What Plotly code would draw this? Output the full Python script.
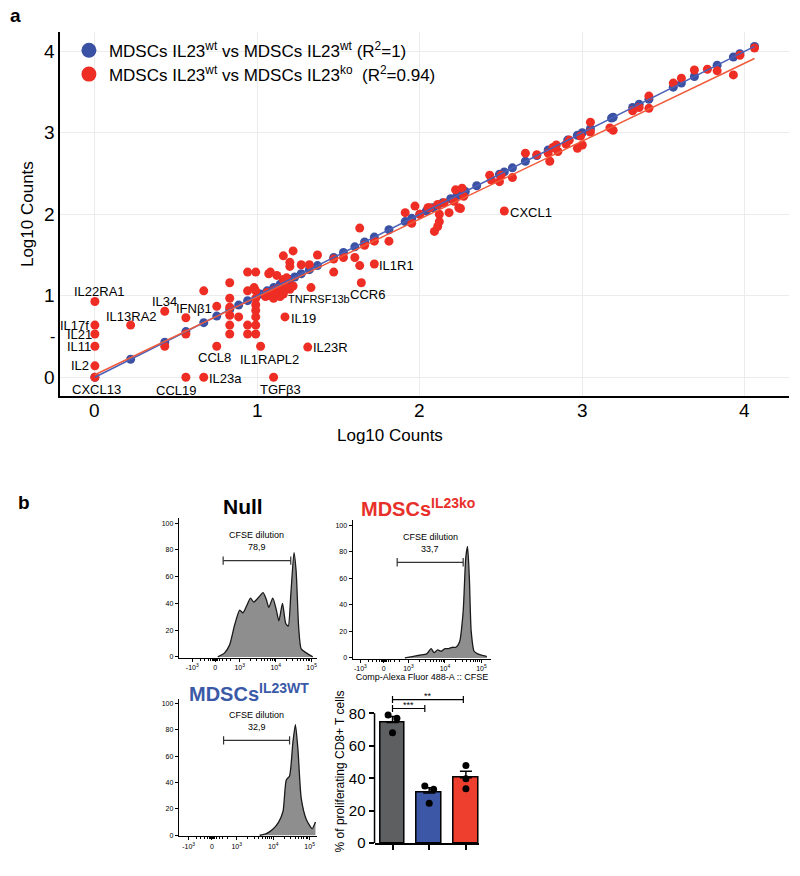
import numpy as np
import plotly.graph_objects as go

# page is 800x876 but the browser body has an 8px margin
OFF = 8
W, H = 784, 860
FONT = "Arial, 'Liberation Sans', Helvetica, sans-serif"
BLUE = "#3b51a3"
RED = "#ee2d24"
BLUE_LINE = "#4a60b8"
RED_LINE = "#f05a3a"

# ---------------- Panel a : scatter data ----------------
blue_x = [0, 0.22, 0.43, 0.56, 0.67, 0.75, 0.83, 0.885, 0.94, 1.02, 1.06, 1.10, 1.14, 1.17,
          1.20, 1.23, 1.27, 1.32, 1.37, 1.47, 1.53, 1.60, 1.66, 1.72, 1.81, 1.91, 1.95, 2.00,
          2.04, 2.08, 2.11, 2.14, 2.19, 2.23, 2.26, 2.28, 2.35, 2.49, 2.52, 2.57, 2.65, 2.72,
          2.79, 2.91, 2.97, 3.00, 3.05, 3.18, 3.19, 3.31, 3.35, 3.41, 3.56, 3.61, 3.69, 3.83,
          3.93, 3.97, 4.06]
blue_y = [0, 0.22, 0.43, 0.56, 0.67, 0.75, 0.83, 0.885, 0.94, 1.02, 1.06, 1.10, 1.14, 1.17,
          1.20, 1.23, 1.27, 1.32, 1.37, 1.47, 1.53, 1.60, 1.66, 1.72, 1.81, 1.91, 1.95, 2.00,
          2.04, 2.08, 2.11, 2.14, 2.19, 2.23, 2.26, 2.28, 2.35, 2.49, 2.52, 2.57, 2.65, 2.72,
          2.79, 2.91, 2.97, 3.00, 3.05, 3.18, 3.19, 3.31, 3.35, 3.41, 3.56, 3.61, 3.69, 3.83,
          3.93, 3.97, 4.06]

red_x = [0.43, 0.56, 0.75, 0.83, 0.83, 0.83, 0.83, 0.83, 0.83, 0.67, 0.885, 0.94, 0.94, 0.94,
         0.94, 0.99, 0.99, 0.99, 0.99, 0.99, 0.99, 0.99, 0.99, 1.08, 1.05, 1.06, 1.08, 1.10,
         1.10, 1.12, 1.13, 1.14, 1.16, 1.18, 1.20, 1.22, 0.98, 1.07, 1.12, 1.16, 1.18,
         1.33, 1.63, 1.63, 1.60, 1.53, 1.47, 1.47, 1.37, 1.22, 1.16, 1.20, 1.20, 1.27, 1.32,
         1.66, 1.72, 1.81, 1.91, 1.97, 1.95, 2.00, 2.05, 2.11, 2.12, 2.12, 2.11, 2.09, 2.18,
         2.24, 2.22, 2.26, 2.27, 2.25, 2.21, 2.06, 2.15, 2.43, 2.44, 2.49, 2.50, 2.57, 2.65,
         2.72, 2.79, 2.80, 2.82, 2.84, 2.85, 2.90, 2.92, 2.97, 3.00, 2.99, 3.05, 3.05, 3.17,
         3.19, 3.31, 3.35, 3.41, 3.41, 3.56, 3.61, 3.69, 3.77, 3.83, 3.93, 3.97, 4.06]
red_y = [0.38, 0.53, 0.87, 0.86, 0.97, 1.16, 0.76, 0.64, 0.53, 1.06, 0.74, 1.29, 1.06, 0.64,
         0.53, 1.29, 1.06, 0.97, 0.89, 0.82, 0.74, 0.64, 0.53, 1.29, 0.99, 1.04, 1.00, 1.06,
         0.97, 1.02, 1.09, 0.99, 1.05, 1.10, 1.08, 1.12, 1.10, 1.27, 1.25, 1.20, 1.22,
         1.10, 1.83, 1.37, 1.47, 1.47, 1.45, 1.29, 1.50, 1.55, 1.49, 1.41, 1.36, 1.38, 1.38,
         1.62, 1.67, 1.67, 2.02, 2.10, 1.89, 2.00, 2.08, 2.12, 2.00, 1.91, 1.85, 1.79, 2.02,
         2.08, 2.30, 2.32, 2.22, 2.07, 2.16, 2.08, 2.14, 2.48, 2.42, 2.40, 2.48, 2.45, 2.75,
         2.73, 2.75, 2.65, 2.82, 2.85, 2.77, 2.86, 2.91, 2.81, 2.85, 2.96, 3.13, 3.01, 3.06,
         3.03, 3.27, 3.31, 3.30, 3.45, 3.61, 3.67, 3.77, 3.78, 3.76, 3.71, 3.95, 4.04]

gene_names = ["IL22RA1", "IL17f", "IL21", "IL11", "IL2", "CXCL13", "IL13RA2", "IL34", "IFNβ1",
              "CCL19", "IL23a", "CCL8", "IL1RAPL2", "TGFβ3", "IL19", "TNFRSF13b", "CCR6",
              "IL1R1", "IL23R", "CXCL1"]
gene_x = [0, 0, 0, 0, 0, 0, 0.22, 0.43, 0.56, 0.56, 0.67, 0.75, 1.02, 1.10, 1.17, 1.16, 1.64,
          1.72, 1.31, 2.52]
gene_y = [0.93, 0.64, 0.53, 0.38, 0.14, 0.0, 0.64, 0.81, 0.73, 0.0, 0.0, 0.38, 0.38, 0.0, 0.74,
          1.02, 1.16, 1.39, 0.37, 2.04]

fit_x = [0, 4.06]
blue_fit = (1.0, 0.0)      # slope, intercept (R2 = 1)
red_fit = (0.956, 0.03)    # slope, intercept (R2 = 0.94)

a_ticks = [0, 1, 2, 3, 4]

legend_names = ["MDSCs IL23<sup>wt</sup> vs MDSCs IL23<sup>wt</sup> (R<sup>2</sup>=1)",
                "MDSCs IL23<sup>wt</sup> vs MDSCs IL23<sup>ko</sup>  (R<sup>2</sup>=0.94)"]

# ---------------- Panel b : CFSE histograms ----------------
null_t = [2.39, 2.58, 2.72, 2.86, 3.00, 3.09, 3.19, 3.30, 3.39, 3.51, 3.65, 3.74, 3.81, 3.92,
          4.02, 4.09, 4.19, 4.28, 4.35, 4.42, 4.51, 4.57, 4.64, 4.71, 4.85, 5.03]
null_count = [0, 3, 9, 24, 35, 33, 38, 44, 41, 44, 48, 43, 37, 44, 35, 27, 40, 25, 23, 46, 78,
              64, 22, 6, 3, 0]
ko_t = [2.90, 3.10, 3.30, 3.50, 3.62, 3.70, 3.80, 3.90, 4.00, 4.10, 4.20, 4.30, 4.40, 4.50,
        4.57, 4.62, 4.67, 4.72, 4.80, 4.90, 5.00, 5.15]
ko_count = [0, 1, 2, 3, 7, 4, 6, 5, 7, 7, 8, 8, 12, 35, 75, 84, 60, 20, 5, 3, 2, 1]
wt_t = [3.63, 3.80, 3.99, 4.15, 4.27, 4.36, 4.45, 4.54, 4.61, 4.68, 4.77, 4.91, 5.07, 5.16]
wt_count = [0, 1, 4.5, 10, 18, 42, 45, 70, 84, 65, 28, 12, 5, 10]

gates = {"null": (2.54, 4.42), "ko": (2.69, 4.50), "wt": (2.64, 4.45)}
gate_level = 72
gate_pct = {"null": "78,9", "ko": "33,7", "wt": "32,9"}

flow_tickvals = [1.68, 2.32, 3, 4, 5]
flow_ticktext = ["-10<sup>3</sup>", "0", "10<sup>3</sup>", "10<sup>4</sup>", "10<sup>5</sup>"]

# ---------------- Panel b : bar chart ----------------
bar_groups = ["Null", "MDSCs IL23WT", "MDSCs IL23ko"]
bar_mean = [74.4, 30.9, 40.3]
bar_sem = [3.6, 3.3, 4.0]
dots_null = [79.0, 77.0, 68.0]
dots_wt = [35.2, 33.2, 24.6]
dots_ko = [47.8, 39.7, 33.6]
sig_pairs = [(0, 0.88, 83.0, "***"), (0, 1.93, 88.5, "**")]

# ---------------- style: label offsets (px, from each point) ----------------
label_offsets = {"IL22RA1": (5, 10), "IL17f": (-20, 0), "IL21": (-15, 0), "IL11": (-16, 0),
                 "IL2": (-15, 0), "CXCL13": (2, -12), "IL13RA2": (1, 8.5), "IL34": (0, 9.5),
                 "IFNβ1": (8, 9.5), "CCL19": (-10, -13), "IL23a": (22, -1.5),
                 "CCL8": (-2, -11), "IL1RAPL2": (9, -13), "TGFβ3": (6.5, -12.7),
                 "IL19": (19, -2), "TNFRSF13b": (36, -5), "CCR6": (6, -11.7),
                 "IL1R1": (22, -1.5), "IL23R": (23, -0.7), "CXCL1": (27, -1)}
label_size = {"TNFRSF13b": 11}

# ---------------- geometry helpers (page pixels) ----------------
def span(a, b, v0, p0, v1, p1):
    s = (p1 - p0) / (v1 - v0)
    return [v0 + (a - p0) / s, v0 + (b - p0) / s]

def pxp(p):
    return (p - OFF) / W

def pyp(p):
    return 1 - (p - OFF) / H

def xdom(a, b):
    return [pxp(a), pxp(b)]

def ydom(bottom, top):
    return [pyp(bottom), pyp(top)]

fig = go.Figure()

# ---- panel a traces
fig.add_trace(go.Scatter(x=blue_x, y=blue_y, mode="markers",
                         marker=dict(size=9, color=BLUE), showlegend=False))
fig.add_trace(go.Scatter(x=red_x, y=red_y, mode="markers",
                         marker=dict(size=9, color=RED), showlegend=False))
fig.add_trace(go.Scatter(x=gene_x, y=gene_y, mode="markers",
                         marker=dict(size=9, color=RED), showlegend=False))
fig.add_trace(go.Scatter(x=fit_x, y=[blue_fit[0] * v + blue_fit[1] for v in fit_x],
                         mode="lines", line=dict(color=BLUE_LINE, width=1.5), showlegend=False))
fig.add_trace(go.Scatter(x=fit_x, y=[red_fit[0] * v + red_fit[1] for v in fit_x],
                         mode="lines", line=dict(color=RED_LINE, width=1.5), showlegend=False))
fig.add_trace(go.Scatter(x=[None], y=[None], mode="markers", name=legend_names[0],
                         marker=dict(size=15, color=BLUE), legend="legend"))
fig.add_trace(go.Scatter(x=[None], y=[None], mode="markers", name=legend_names[1],
                         marker=dict(size=15, color=RED), legend="legend2"))

for name, gx, gy in zip(gene_names, gene_x, gene_y):
    dx, dy = label_offsets[name]
    fig.add_annotation(x=gx, y=gy, xref="x", yref="y", text=name, showarrow=False,
                       xshift=dx, yshift=dy,
                       font=dict(size=label_size.get(name, 13), family=FONT, color="black"))

# ---- histograms
hist_specs = [("null", null_t, null_count, "x2", "y2"),
              ("ko", ko_t, ko_count, "x3", "y3"),
              ("wt", wt_t, wt_count, "x4", "y4")]
for key, t, c, xa, ya in hist_specs:
    fig.add_trace(go.Scatter(x=t, y=c, mode="lines", fill="tozeroy", fillcolor="#8e8e8e",
                             line=dict(color="#1a1a1a", width=1.3, shape="spline", smoothing=0.6),
                             xaxis=xa, yaxis=ya, showlegend=False))
    g0, g1 = gates[key]
    fig.add_trace(go.Scatter(x=[g0, g1], y=[gate_level, gate_level], mode="lines+markers",
                             line=dict(color="#333", width=1.2),
                             marker=dict(symbol="line-ns", size=6,
                                         line=dict(color="#333", width=1.2)),
                             xaxis=xa, yaxis=ya, showlegend=False))
    fig.add_annotation(x=(g0 + g1) / 2, y=91, xref=xa, yref=ya, text="CFSE dilution",
                       showarrow=False, font=dict(size=9, family=FONT, color="black"))
    fig.add_annotation(x=(g0 + g1) / 2, y=82, xref=xa, yref=ya, text=gate_pct[key],
                       showarrow=False, font=dict(size=9, family=FONT, color="black"))

# ---- bar chart
bar_x = list(range(len(bar_groups)))
fig.add_trace(go.Bar(x=bar_x, y=bar_mean, width=0.67,
                     marker=dict(color=["#5e5f61", "#3b57a5", "#ee3e2d"],
                                 line=dict(color="black", width=1.5)),
                     error_y=dict(type="data", array=bar_sem, arrayminus=[0, 0, 0],
                                  symmetric=False, color="black", thickness=1.5, width=6),
                     xaxis="x5", yaxis="y5", showlegend=False))
jitter = [-0.12, 0.12, 0.0]
for i, dots in enumerate([dots_null, dots_wt, dots_ko]):
    jit = jitter if i < 2 else [0, 0, 0]
    fig.add_trace(go.Scatter(x=[i + j for j in jit], y=dots, mode="markers",
                             marker=dict(size=7, color="black"),
                             xaxis="x5", yaxis="y5", showlegend=False))
for x0, x1, h, lab in sig_pairs:
    fig.add_trace(go.Scatter(x=[x0, x1], y=[h, h], mode="lines+markers",
                             line=dict(color="black", width=1.2),
                             marker=dict(symbol="line-ns", size=5, line=dict(color="black", width=1.2)),
                             xaxis="x5", yaxis="y5", showlegend=False))
    fig.add_annotation(x=(x0 + x1) / 2, y=h, xref="x5", yref="y5", text=lab, showarrow=False,
                       yanchor="bottom", yshift=-3, font=dict(size=9, family=FONT, color="black"))

# ---------------- axes ----------------
minor_flow = sorted([2.32 + s * d for s in (-1, 1) for d in (0.015, 0.03, 0.045, 0.07, 0.12, 0.2, 0.3, 0.42)]
                    + [d + np.log10(k) for d in (3, 4) for k in range(2, 10)])

legend_common = dict(xanchor="left", yanchor="top",
                     font=dict(size=17, family=FONT, color="black"), bgcolor="rgba(0,0,0,0)",
                     itemclick=False, borderwidth=0)
layout = dict(
    width=W, height=H, margin=dict(l=0, r=0, t=0, b=0),
    paper_bgcolor="white", plot_bgcolor="white",
    font=dict(family=FONT, color="black"),
    legend=dict(x=pxp(69), y=pyp(33), **legend_common),
    legend2=dict(x=pxp(69), y=pyp(57), **legend_common),
    bargap=0,
)

# panel a
layout["xaxis"] = dict(domain=xdom(60, 790), range=span(60, 790, 0, 95, 4, 745.7), anchor="y",
                       tickvals=a_ticks, showticklabels=False, showgrid=True, gridcolor="#ececec",
                       zeroline=False, showline=True, linecolor="black", linewidth=2, ticks="")
layout["yaxis"] = dict(domain=ydom(400, 32), range=span(400, 32, 0, 380.7, 4, 51.7), anchor="x",
                       tickvals=a_ticks, showticklabels=False, showgrid=True, gridcolor="#ececec",
                       zeroline=False, showline=True, linecolor="black", linewidth=2, ticks="")

# histograms
def flow_axes(xd, xmap, yd, ymap, n, show_title=False):
    xa = dict(domain=xdom(*xd), range=span(xd[0], xd[1], *xmap), anchor="y%d" % n,
              tickvals=flow_tickvals, ticktext=flow_ticktext, ticks="outside", ticklen=3,
              tickwidth=1, tickcolor="black", tickfont=dict(size=7, color="black"), showgrid=False,
              zeroline=False, showline=True, linecolor="black", linewidth=1,
              minor=dict(tickmode="array", tickvals=minor_flow, ticks="outside", ticklen=2,
                         tickcolor="black", tickwidth=1))
    if show_title:
        xa["title"] = dict(text="Comp-Alexa Fluor 488-A :: CFSE", font=dict(size=9, color="black"),
                           standoff=2)
    ya = dict(domain=ydom(*yd), range=span(yd[0], yd[1], *ymap), anchor="x%d" % n,
              tickvals=[0, 20, 40, 60, 80, 100], ticks="outside", ticklen=3, tickwidth=1,
              tickcolor="black", tickfont=dict(size=7, color="black"), showgrid=False,
              zeroline=False, showline=True, linecolor="black", linewidth=1)
    return xa, ya

layout["xaxis2"], layout["yaxis2"] = flow_axes((179, 317), (3, 240, 5, 312), (664, 523), (0, 663, 100, 528), 2)
layout["xaxis3"], layout["yaxis3"] = flow_axes((353, 492), (3, 409, 5, 482), (665, 525), (0, 664, 100, 530), 3, True)
layout["xaxis4"], layout["yaxis4"] = flow_axes((179, 317), (3, 237, 5, 310), (844, 705), (0, 843, 100, 710), 4)

# bar chart
layout["xaxis5"] = dict(domain=xdom(375, 480), range=span(375, 480, 0, 393, 2, 466.5), anchor="y5",
                        tickvals=bar_x, ticktext=["", "", ""], ticks="outside", ticklen=5,
                        tickwidth=1.5, tickcolor="black", showgrid=False, zeroline=False,
                        showline=True, linecolor="black", linewidth=1.5)
layout["yaxis5"] = dict(domain=ydom(851, 700), range=span(851, 700, 0, 851, 80, 720), anchor="x5",
                        tickvals=[0, 20, 40, 60, 80], ticks="outside", ticklen=5, tickwidth=1.5,
                        tickcolor="black", tickfont=dict(size=15, color="black"), showgrid=False,
                        zeroline=False, showline=False)
fig.update_layout(**layout)

# y axis line of the bar chart (0 to 80)
fig.add_shape(type="line", xref="paper", yref="y5", x0=pxp(375), x1=pxp(375), y0=0, y1=80,
              line=dict(color="black", width=1.5))

# panel a tick labels
for v in a_ticks:
    fig.add_annotation(x=v, y=pyp(414), xref="x", yref="paper", text=str(v), showarrow=False,
                       yanchor="middle", font=dict(size=19, family=FONT, color="black"))
    fig.add_annotation(x=pxp(57), y=v, xref="paper", yref="y", text=str(v), showarrow=False,
                       xanchor="right", font=dict(size=19, family=FONT, color="black"))
fig.add_annotation(x=pxp(57), y=0.5, xref="paper", yref="y", text="-", showarrow=False,
                   xanchor="right", font=dict(size=16, family=FONT, color="black"))

# ---------------- text annotations ----------------
def ann(text, px, py, size, bold=False, color="black", angle=0, xanchor="center"):
    fig.add_annotation(x=pxp(px), y=pyp(py), xref="paper", yref="paper", text=text,
                       showarrow=False, textangle=angle, xanchor=xanchor, yanchor="middle",
                       font=dict(size=size, color=color, family=FONT,
                                 weight="bold" if bold else "normal"))

ann("a", 16, 16, 19, bold=True)
ann("b", 24, 507, 19, bold=True)
ann("Log10 Counts", 390, 440, 17)
ann("Log10 Counts", 27, 216, 17, angle=-90)
ann("Null", 243, 511, 21, bold=True)
ann("MDSCs<sup>IL23ko</sup>", 419, 512, 20, bold=True, color="#e8302a")
ann("MDSCs<sup>IL23WT</sup>", 249, 699, 20, bold=True, color="#3a5aa8")
ann("% of proliferating CD8+ T cells", 340, 779, 12, angle=-90)

fig.write_html("out.html")
